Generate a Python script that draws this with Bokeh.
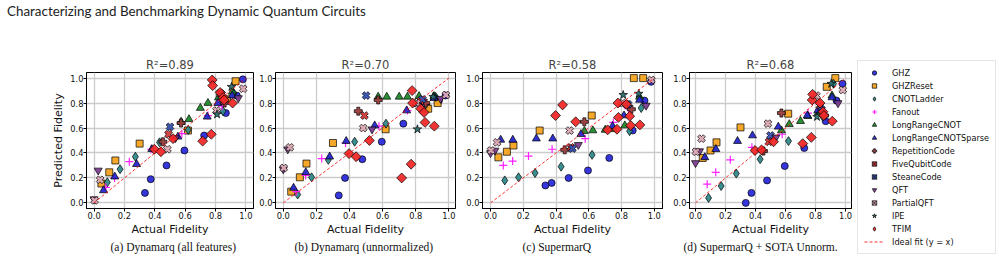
import numpy as np
from bokeh.plotting import figure
from bokeh.models import (Range1d, FixedTicker, PrintfTickFormatter, Title,
                          Legend, LegendItem, Div)
from bokeh.layouts import row, column
from bokeh.embed import file_html
from bokeh.resources import INLINE

# ---------------- data ----------------
PAGE_TITLE = "Characterizing and Benchmarking Dynamic Quantum Circuits"
CATEGORIES = ["GHZ", "GHZReset", "CNOTLadder", "Fanout", "LongRangeCNOT",
              "LongRangeCNOTSparse", "RepetitionCode", "FiveQubitCode",
              "SteaneCode", "QFT", "PartialQFT", "IPE", "TFIM"]

ACTUAL = {
    "GHZ": [0.335, 0.373, 0.477, 0.595, 0.725, 0.868, 0.94, 0.98],
    "GHZReset": [0.048, 0.10, 0.14, 0.30, 0.618, 0.875, 0.932],
    "CNOTLadder": [0.087, 0.171, 0.272, 0.431, 0.62, 0.849, 0.92],
    "Fanout": [0.078, 0.135, 0.232, 0.376, 0.578, 0.75, 0.842],
    "LongRangeCNOT": [0.573, 0.625, 0.70, 0.75, 0.82, 0.91],
    "LongRangeCNOTSparse": [0.062, 0.136, 0.28, 0.38, 0.552, 0.745, 0.815, 0.91],
    "RepetitionCode": [0.453, 0.573, 0.86],
    "FiveQubitCode": [0.49, 0.83],
    "SteaneCode": [0.50, 0.84],
    "QFT": [0.0, 0.027, 0.536, 0.95],
    "PartialQFT": [0.003, 0.04, 0.483, 0.806, 0.982],
    "IPE": [0.81, 0.905],
    "TFIM": [0.397, 0.44, 0.52, 0.715, 0.772, 0.778, 0.781, 0.83, 0.85, 0.856, 0.912],
}

PRED_A = {
    "GHZ": [0.08, 0.19, 0.30, 0.42, 0.54, 0.72, 0.86, 0.99],
    "GHZReset": [0.155, 0.245, 0.34, 0.475, 0.58, 0.83, 0.975],
    "CNOTLadder": [0.165, 0.27, 0.37, 0.485, 0.585, 0.735, 0.88],
    "Fanout": [0.125, 0.20, 0.33, 0.43, 0.555, 0.70, 0.775],
    "LongRangeCNOT": [0.65, 0.67, 0.76, 0.80, 0.845, 0.89],
    "LongRangeCNOTSparse": [0.10, 0.21, 0.31, 0.43, 0.53, 0.69, 0.80, 0.86],
    "RepetitionCode": [0.49, 0.64, 0.80],
    "FiveQubitCode": [0.55, 0.88],
    "SteaneCode": [0.61, 0.87],
    "QFT": [0.03, 0.26, 0.52, 0.84],
    "PartialQFT": [0.02, 0.185, 0.43, 0.74, 0.915],
    "IPE": [0.71, 0.93],
    "TFIM": [0.43, 0.41, 0.515, 0.495, 0.55, 0.985, 0.94, 0.885, 0.845, 0.825, 0.80],
}

PRED_B = {
    "GHZ": [0.06, 0.20, 0.35, 0.49, 0.635, 0.77, 0.82, 0.86],
    "GHZReset": [0.09, 0.205, 0.315, 0.48, 0.59, 0.755, 0.80],
    "CNOTLadder": [0.067, 0.205, 0.345, 0.49, 0.635, 0.77, 0.85],
    "Fanout": [0.09, 0.22, 0.355, 0.48, 0.615, 0.74, 0.80],
    "LongRangeCNOT": [0.85, 0.85, 0.85, 0.85, 0.855, 0.855],
    "LongRangeCNOTSparse": [0.12, 0.245, 0.37, 0.495, 0.62, 0.74, 0.795, 0.84],
    "RepetitionCode": [0.735, 0.825, 0.80],
    "FiveQubitCode": [0.70, 0.82],
    "SteaneCode": [0.86, 0.83],
    "QFT": [0.27, 0.43, 0.59, 0.835],
    "PartialQFT": [0.28, 0.445, 0.60, 0.80, 0.865],
    "IPE": [0.59, 0.85],
    "TFIM": [0.395, 0.37, 0.50, 0.20, 0.31, 0.90, 0.80, 0.755, 0.725, 0.645, 0.615],
}

PRED_C = {
    "GHZ": [0.14, 0.16, 0.20, 0.26, 0.36, 0.58, 0.82, 0.97],
    "GHZReset": [0.365, 0.41, 0.46, 0.58, 0.70, 1.0, 1.0],
    "CNOTLadder": [0.18, 0.205, 0.24, 0.29, 0.385, 0.575, 0.76],
    "Fanout": [0.30, 0.335, 0.375, 0.43, 0.515, 0.645, 0.755],
    "LongRangeCNOT": [0.575, 0.58, 0.585, 0.59, 0.62, 0.85],
    "LongRangeCNOTSparse": [0.505, 0.505, 0.515, 0.515, 0.55, 0.615, 0.70, 0.825],
    "RepetitionCode": [0.425, 0.65, 0.75],
    "FiveQubitCode": [0.445, 0.79],
    "SteaneCode": [0.435, 0.79],
    "QFT": [0.40, 0.42, 0.465, 0.78],
    "PartialQFT": [0.42, 0.485, 0.58, 0.80, 0.985],
    "IPE": [0.865, 0.875],
    "TFIM": [0.70, 0.785, 0.65, 0.585, 0.59, 0.80, 0.685, 0.79, 0.695, 0.62, 0.625],
}

PRED_D = {
    "GHZ": [0.0, 0.08, 0.18, 0.295, 0.44, 0.655, 0.82, 0.955],
    "GHZReset": [0.36, 0.42, 0.485, 0.605, 0.715, 0.93, 1.0],
    "CNOTLadder": [0.04, 0.135, 0.235, 0.35, 0.495, 0.69, 0.955],
    "Fanout": [0.15, 0.245, 0.345, 0.445, 0.55, 0.72, 0.75],
    "LongRangeCNOT": [0.58, 0.63, 0.655, 0.695, 0.725, 0.86],
    "LongRangeCNOTSparse": [0.365, 0.43, 0.495, 0.54, 0.61, 0.70, 0.74, 0.845],
    "RepetitionCode": [0.415, 0.72, 0.70],
    "FiveQubitCode": [0.49, 0.78],
    "SteaneCode": [0.54, 0.75],
    "QFT": [0.32, 0.415, 0.525, 0.80],
    "PartialQFT": [0.41, 0.515, 0.635, 0.86, 0.905],
    "IPE": [0.69, 0.955],
    "TFIM": [0.42, 0.425, 0.49, 0.475, 0.525, 0.825, 0.87, 0.80, 0.73, 0.70, 0.655],
}

PREDICTIONS = [PRED_A, PRED_B, PRED_C, PRED_D]
PANEL_TITLES = ["R\u00b2=0.89", "R\u00b2=0.70", "R\u00b2=0.58", "R\u00b2=0.68"]
CAPTIONS = ["(a) Dynamarq (all features)", "(b) Dynamarq (unnormalized)",
            "(c) SupermarQ", "(d) SupermarQ + SOTA Unnorm."]
X_LABEL = "Actual Fidelity"
Y_LABEL = "Predicted Fidelity"
TICKS = [0.0, 0.2, 0.4, 0.6, 0.8, 1.0]
IDEAL_FIT = [0.0, 1.0]
IDEAL_LABEL = "Ideal fit (y = x)"

# ---------------- styles ----------------
Q = np.pi / 4
STYLE = {
    "GHZ": ("circle", "#2b2bdd", 7, 0),
    "GHZReset": ("square", "#f5a31f", 7, 0),
    "CNOTLadder": ("diamond", "#2f8a8a", 9, 0),
    "Fanout": ("cross", "#ff22ff", 8, 0),
    "LongRangeCNOT": ("triangle", "#1f8a2a", 8, 0),
    "LongRangeCNOTSparse": ("triangle", "#2626cc", 8, 0),
    "RepetitionCode": ("plus", "#9a3b3b", 8, 0),
    "FiveQubitCode": ("plus", "#d23a3a", 8, Q),
    "SteaneCode": ("plus", "#3550b0", 8, Q),
    "QFT": ("inverted_triangle", "#7d3c8f", 8, 0),
    "PartialQFT": ("plus", "#dcaab4", 8, Q),
    "IPE": ("star", "#2f6e6e", 9, 0),
    "TFIM": ("square", "#f02a2a", 7, Q),
}
# legend glyphs are drawn without rotation, so rotated shapes get an upright twin
LEGEND_STYLE = dict(STYLE)
LEGEND_STYLE["TFIM"] = ("diamond", "#f02a2a", 11, 0)
LEGEND_STYLE["FiveQubitCode"] = ("square_x", "#d23a3a", 7, 0)
LEGEND_STYLE["SteaneCode"] = ("square_x", "#3550b0", 7, 0)
LEGEND_STYLE["PartialQFT"] = ("square_x", "#dcaab4", 7, 0)

PANEL_GEOM = [
    dict(width=254, left=86, right=1, xr=(-0.05, 1.05), cap_off=24),
    dict(width=205, left=21, right=4, xr=(-0.047, 1.04), cap_off=19),
    dict(width=206, left=23, right=3, xr=(-0.049, 1.05), cap_off=40),
    dict(width=188, left=24, right=2, xr=(-0.04, 1.04), cap_off=-6),
]
FIG_H = 229
BORDER_TOP = 42
BORDER_BOTTOM = 51
FONT = "DejaVu Sans"


def add_points(p, style, xs, ys, size_scale=1.0):
    marker, color, size, angle = style
    if marker == "cross":
        return p.scatter(xs, ys, marker=marker, size=size * size_scale,
                         line_color=color, line_width=1.2)
    return p.scatter(xs, ys, marker=marker, size=size * size_scale,
                     fill_color=color, fill_alpha=0.95, line_color="black",
                     line_width=0.7, angle=angle)


panels = []
for i, geom in enumerate(PANEL_GEOM):
    p = figure(width=geom["width"], height=FIG_H,
               x_range=Range1d(*geom["xr"]), y_range=Range1d(-0.045, 1.045),
               output_backend="svg", toolbar_location=None,
               min_border_left=geom["left"], min_border_right=geom["right"],
               min_border_top=BORDER_TOP, min_border_bottom=BORDER_BOTTOM)
    p.title.text = PANEL_TITLES[i]
    p.title.align = "center"
    p.title.text_font = FONT
    p.title.text_font_size = "11.5px"
    p.title.text_font_style = "normal"
    p.title.standoff = 1
    p.outline_line_color = "black"
    p.outline_line_width = 1
    p.outline_line_alpha = 1
    for ax in (p.xaxis[0], p.yaxis[0]):
        ax.ticker = FixedTicker(ticks=TICKS)
        ax.formatter = PrintfTickFormatter(format="%.1f")
        ax.major_label_text_font = FONT
        ax.major_label_text_font_size = "8.3px"
        ax.major_label_text_color = "#111111"
        ax.major_tick_out = 3
        ax.major_tick_in = 0
        ax.minor_tick_out = 0
        ax.minor_tick_in = 0
        ax.major_label_standoff = 0
        ax.axis_line_color = "black"
        ax.major_tick_line_color = "black"
        ax.axis_label_text_font = FONT
        ax.axis_label_text_font_size = "11px"
        ax.axis_label_text_font_style = "normal"
        ax.axis_label_text_color = "#111111"
        ax.axis_label_standoff = 1
    p.xaxis.axis_label = X_LABEL
    if i == 0:
        p.yaxis.axis_label = Y_LABEL
        p.yaxis.axis_label_standoff = 2
    p.xgrid.ticker = FixedTicker(ticks=TICKS)
    p.ygrid.ticker = FixedTicker(ticks=TICKS)
    p.grid.grid_line_color = "#cccccc"
    p.grid.grid_line_width = 1.3

    preds = PREDICTIONS[i]
    for cat in CATEGORIES:
        add_points(p, STYLE[cat], ACTUAL[cat], preds[cat])
    p.line(IDEAL_FIT, IDEAL_FIT, line_color="red", line_dash="3 2",
           line_width=1, line_alpha=0.8)

    cap = Title(text=CAPTIONS[i], align="left", text_font="Liberation Serif",
                text_font_size="11.5px", text_font_style="normal", standoff=0,
                offset=geom["cap_off"], text_color="#111111")
    p.add_layout(cap, "below")
    panels.append(p)

# ---------------- legend figure ----------------
lp = figure(width=146, height=FIG_H, x_range=Range1d(0, 1), y_range=Range1d(0, 1),
            x_axis_type=None, y_axis_type=None, toolbar_location=None,
            output_backend="svg", min_border=0)
lp.frame_align = False
lp.outline_line_color = None
lp.xgrid.visible = False
lp.ygrid.visible = False
HANDLE = [np.nan]   # legend handles only: no data mark is drawn
items = []
for cat in CATEGORIES:
    r = add_points(lp, LEGEND_STYLE[cat], HANDLE, HANDLE, size_scale=0.8)
    items.append(LegendItem(label=cat, renderers=[r]))
lr = lp.line(HANDLE, HANDLE, line_color="red", line_dash="3 2", line_width=1,
             line_alpha=0.8)
items.append(LegendItem(label=IDEAL_LABEL, renderers=[lr]))
legend = Legend(items=items, location=(4, 5), glyph_width=20, glyph_height=11,
                label_height=11, label_standoff=8, spacing=2, padding=6, margin=0,
                label_text_font=FONT, label_text_font_size="8.2px",
                label_text_color="#111111",
                border_line_color="#cccccc", border_line_width=1,
                background_fill_color="white", background_fill_alpha=1)
lp.add_layout(legend)

header = Div(text=('<div style="font-family:Lato;font-size:13.4px;line-height:13px;'
                   'margin:5px 0 0 7px;color:#222222;white-space:nowrap">'
                   + PAGE_TITLE + '</div>'), width=999, height=30,
             styles={"margin": "0", "padding": "0"})

layout = column(header, row(*panels, lp, spacing=0), spacing=0)

open("out.html", "w").write(file_html(layout, INLINE))
